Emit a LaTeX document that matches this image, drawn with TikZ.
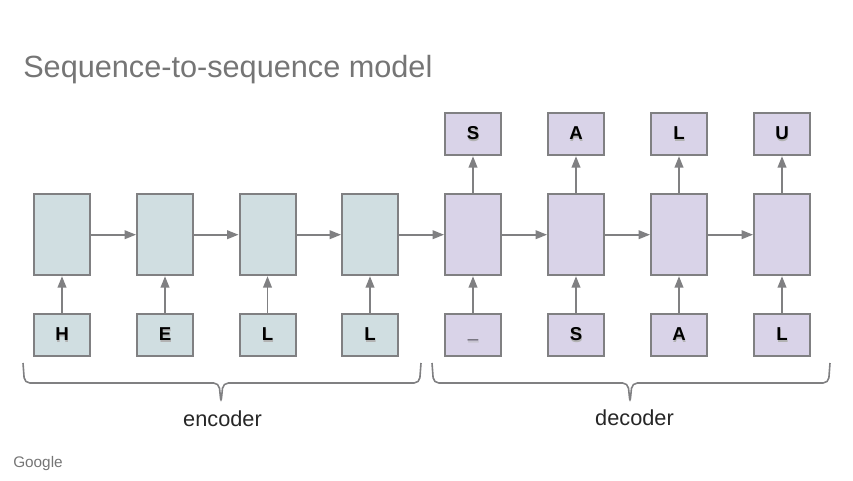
\documentclass[tikz,border=0pt]{standalone}
\usepackage{fontspec}
\setmainfont{Liberation Sans}
\usepackage{xcolor}
\usetikzlibrary{arrows.meta}
\definecolor{encfill}{HTML}{D0DEE1}
\definecolor{decfill}{HTML}{D9D3E8}
\definecolor{linegray}{HTML}{808082}
\definecolor{titlegray}{HTML}{757575}
\newcommand{\blurred}[1]{\rlap{\raisebox{-1.5pt}{\kern0.4pt\color{black!30}#1}}#1}
\tikzset{
    cell/.style={draw=linegray, line width=1.5pt, minimum width=42pt, minimum height=60.8pt, inner sep=0pt},
    letter/.style={draw=linegray, line width=1.5pt, minimum width=42pt, minimum height=31.8pt, inner sep=0pt, font=\fontsize{14}{14}\selectfont\bfseries},
    enc/.style={fill=encfill},
    dec/.style={fill=decfill},
    link/.style={draw=linegray, line width=1.2pt, -{Triangle[length=8.5pt,width=6.5pt]}},
    bracket/.style={draw=linegray, line width=1.2pt, rounded corners=4pt},
    caption/.style={font=\fontsize{16.3}{16.3}\selectfont, text=black!85}
}
\begin{document}
\begin{tikzpicture}[x=0.75pt, y=-0.75pt]
                        \useasboundingbox (0, 0) rectangle (853, 480);

                        \node[anchor=base west, inner sep=0pt, text=titlegray, font=\fontsize{23}{23}\selectfont] (title) at (23, 77) {Sequence-to-sequence model};

                        \node[cell, enc] (e1) at (62, 234.7) {};
                        \node[cell, enc] (e2) at (165, 234.7) {};
                        \node[cell, enc] (e3) at (267.5, 234.7) {};
                        \node[cell, enc] (e4) at (370, 234.7) {};
                        \node[cell, dec] (d1) at (473, 234.7) {};
                        \node[cell, dec] (d2) at (576, 234.7) {};
                        \node[cell, dec] (d3) at (679, 234.7) {};
                        \node[cell, dec] (d4) at (782, 234.7) {};

                        \node[letter, enc] (h) at (62, 334.7) {\blurred{H}};
                        \node[letter, enc] (ee) at (165, 334.7) {\blurred{E}};
                        \node[letter, enc] (l1) at (267.5, 334.7) {\blurred{L}};
                        \node[letter, enc] (l2) at (370, 334.7) {\blurred{L}};
                        \node[letter, dec] (start) at (473, 334.7) {\blurred{\vphantom{H}\_}};
                        \node[letter, dec] (s1) at (576, 334.7) {\blurred{S}};
                        \node[letter, dec] (a1) at (679, 334.7) {\blurred{A}};
                        \node[letter, dec] (l3) at (782, 334.7) {\blurred{L}};

                        \node[letter, dec] (s2) at (473, 134) {\blurred{S}};
                        \node[letter, dec] (a2) at (576, 134) {\blurred{A}};
                        \node[letter, dec] (l4) at (679, 134) {\blurred{L}};
                        \node[letter, dec] (u) at (782, 134) {\blurred{U}};

                        \draw[link] (e1) -- (e2);
                        \draw[link] (e2) -- (e3);
                        \draw[link] (e3) -- (e4);
                        \draw[link] (e4) -- (d1);
                        \draw[link] (d1) -- (d2);
                        \draw[link] (d2) -- (d3);
                        \draw[link] (d3) -- (d4);

                        \draw[link] (h) -- (e1);
                        \draw[link] (ee) -- (e2);
                        \draw[link] (l1) -- (e3);
                        \draw[link] (l2) -- (e4);
                        \draw[link] (start) -- (d1);
                        \draw[link] (s1) -- (d2);
                        \draw[link] (a1) -- (d3);
                        \draw[link] (l3) -- (d4);

                        \draw[link] (d1) -- (s2);
                        \draw[link] (d2) -- (a2);
                        \draw[link] (d3) -- (l4);
                        \draw[link] (d4) -- (u);

                        \draw[bracket]
                        (23, 363) -- (24.5, 383) -- (219, 383) -- (221, 403) -- (223, 383) -- (419.5, 383) -- (421, 363);
                        \draw[bracket]
                        (432, 363) -- (433.5, 383) -- (628, 383) -- (630, 403) -- (632, 383) -- (828.5, 383) -- (830, 363);

                        \node[caption] (encoder) at (222.5, 419) {encoder};
                        \node[caption] (decoder) at (634.5, 418) {decoder};

                        \node[anchor=base west, inner sep=0pt, text=titlegray, font=\fontsize{11.5}{11.5}\selectfont] (google) at (13, 467) {Google};
                    \end{tikzpicture}
\end{document}
